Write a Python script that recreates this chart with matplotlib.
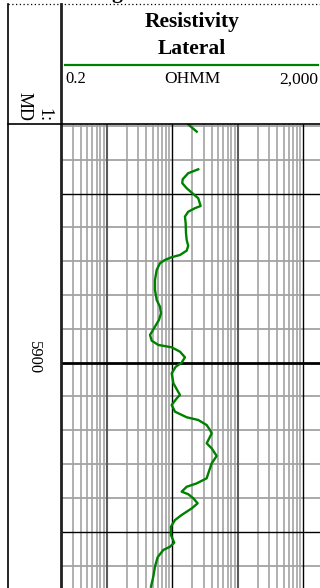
import numpy as np
import matplotlib
matplotlib.use('Agg')
import matplotlib.pyplot as plt

# lateral resistivity log, ohm.m against measured depth (ft)
# upper short run, then a gap before the main run
depth_a = [5885.80, 5885.99, 5886.33]
res_a = [16.6, 18.6, 23.6]

depth_b = [5888.56, 5888.79, 5889.15, 5889.38, 5889.68, 5890.02, 5890.27, 5890.73,
           5890.86, 5891.07, 5891.36, 5891.75, 5892.34, 5892.74, 5893.09, 5893.37,
           5893.63, 5893.76, 5893.92, 5894.12, 5894.51, 5895.11, 5895.70, 5896.29,
           5896.69, 5897.08, 5897.47, 5897.87, 5898.36, 5898.70, 5898.95, 5899.09,
           5899.35, 5899.68, 5900.00, 5900.24, 5900.63, 5901.22, 5901.91, 5902.11,
           5902.50, 5902.90, 5903.23, 5903.39, 5903.69, 5903.98, 5904.18, 5904.77,
           5905.07, 5905.52, 5905.95, 5906.54, 5906.84, 5907.14, 5907.34, 5907.63,
           5907.78, 5908.02, 5908.32, 5908.62, 5909.01, 5909.31, 5909.70, 5910.20,
           5910.65, 5910.89, 5911.08, 5911.51, 5912.07, 5912.66, 5913.25]
res_b = [24.9, 17.5, 14.4, 14.2, 16.6, 20.9, 24.9, 27.1,
         22.2, 17.5, 15.6, 16.0, 16.2, 16.6, 17.5, 16.6,
         13.1, 9.79, 7.74, 6.49, 5.78, 5.44, 5.44, 5.78,
         6.49, 6.72, 6.26, 5.44, 4.57, 4.85, 6.11, 9.79,
         13.1, 15.6, 13.9, 11.3, 9.79, 10.4, 13.1, 11.7,
         9.79, 11.0, 16.6, 24.9, 33.5, 37.6, 40.0, 33.5,
         40.0, 47.6, 40.0, 35.5, 33.5, 23.6, 16.6, 13.9,
         17.5, 20.9, 24.4, 19.8, 13.9, 11.0, 9.55, 9.55,
         10.7, 9.22, 7.29, 5.98, 5.44, 5.13, 4.73]

x_min, x_max = 0.2, 2000
depth_top, depth_bot = 5885.85, 5913.33
depth_label = 5900
title_lines = ['Resistivity', 'Lateral']
units = 'OHMM'

W, H = 320, 588
fig = plt.figure(figsize=(W / 100, H / 100), dpi=100)
serif = ['Liberation Serif', 'DejaVu Serif']

# log track, right edge runs a little past the figure
tl, tr, tt = 61, 323, 123.5
ax = fig.add_axes([tl / W, 0, (tr - tl) / W, (H - tt) / H])
ax.set_xscale('log')
ax.set_xlim(x_min, x_max)
ax.set_ylim(depth_bot, depth_top)
ax.axis('off')

for dec in [0.1, 1, 10, 100, 1000]:
    for m in range(2, 10):
        v = dec * m
        if x_min < v < x_max:
            ax.axvline(v, color='#a3a3a3', lw=1.2, zorder=1)
for v in [1, 100]:
    ax.axvline(v, color='#5a5a5a', lw=1.5, zorder=2)
for v in [10, 1000]:
    ax.axvline(v, color='black', lw=1.0, zorder=2)

for d in np.arange(5886, 5914, 2):
    if d == depth_label:
        ax.axhline(d, color='black', lw=2.0, zorder=2)
    elif d % 10 == 0:
        ax.axhline(d, color='black', lw=1.0, zorder=2)
    else:
        ax.axhline(d, color='#a3a3a3', lw=1.3, zorder=1)

ax.plot(res_a, depth_a, color='#008000', lw=1.7, zorder=5)
ax.plot(res_b, depth_b, color='#008000', lw=1.7, zorder=5)

# depth track
axd = fig.add_axes([7.5 / W, 0, (tl - 7.5) / W, (H - tt) / H])
axd.set_xlim(0, 1)
axd.set_ylim(depth_bot, depth_top)
axd.axis('off')
axd.text(0.49, depth_label - 0.28, str(depth_label), rotation=-90, rotation_mode='anchor',
         ha='center', va='center', fontsize=12, family=serif)

# header and borders drawn in pixel coords
ov = fig.add_axes([0, 0, 1, 1], zorder=10)
ov.set_xlim(0, W)
ov.set_ylim(H, 0)
ov.axis('off')
ov.patch.set_alpha(0)

ov.plot([7.5, W], [4, 4], color='black', lw=0.9, ls=(0, (1, 2)))
ov.plot([7.5, 7.5], [4, H], color='black', lw=1.2)
ov.plot([61, 61], [4, H], color='#202020', lw=2.0)
ov.plot([7.5, W], [123.5, 123.5], color='black', lw=1.2)
ov.plot([65, 318], [65, 65], color='#008000', lw=1.6)

ov.text(117, -2, 'g', ha='center', va='baseline', fontsize=15.5, fontweight='bold', family=serif)
ov.text(192, 26.7, title_lines[0], ha='center', va='baseline', fontsize=15.5,
        fontweight='bold', family=serif)
ov.text(192, 54, title_lines[1], ha='center', va='baseline', fontsize=15.5,
        fontweight='bold', family=serif)
ov.text(65, 83.3, '%g' % x_min, ha='left', va='baseline', fontsize=12, family=serif)
ov.text(192, 83.3, units, ha='center', va='baseline', fontsize=12.5, family=serif)
ov.text(318, 83.3, '{:,}'.format(x_max), ha='right', va='baseline', fontsize=12.5, family=serif)

ov.text(24.5, 121.5, 'MD', rotation=-90, rotation_mode='anchor', ha='right', va='center',
        fontsize=13, family=serif)
ov.text(44, 122, '1:', rotation=-90, rotation_mode='anchor', ha='right', va='center',
        fontsize=13, family=serif)

fig.savefig('out.png', dpi=100)
